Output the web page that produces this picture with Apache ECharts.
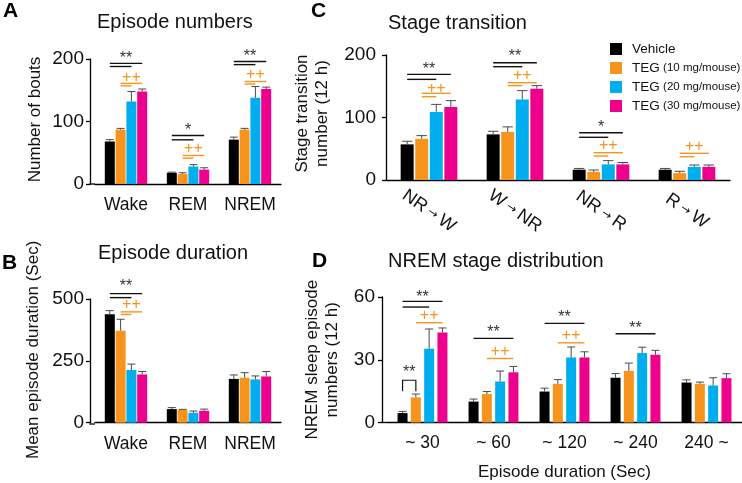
<!DOCTYPE html>
<html><head><meta charset="utf-8">
<script src="https://cdn.jsdelivr.net/npm/echarts/dist/echarts.min.js"></script>
<style>html,body{margin:0;padding:0;background:#fff}#c{width:742px;height:483px}</style>
</head><body><div id="c"></div>
<script>
// ---------- data ----------
const groups = ['Vehicle', 'TEG (10 mg/mouse)', 'TEG (20 mg/mouse)', 'TEG (30 mg/mouse)'];
const colors = ['#000000', '#F7941D', '#00AEEF', '#EC008C'];

// A: Episode numbers
const catsA = ['Wake', 'REM', 'NREM'];
const vehicleA = [68, 18, 71];
const teg10A = [87, 16, 87];
const teg20A = [132, 28, 138];
const teg30A = [148, 23, 152];
const errVehicleA = [3, 1, 4];
const errTeg10A = [2, 2, 2];
const errTeg20A = [16, 3, 18];
const errTeg30A = [4, 3, 3];

// B: Episode duration
const catsB = ['Wake', 'REM', 'NREM'];
const vehicleB = [438, 55, 177];
const teg10B = [372, 52, 182];
const teg20B = [213, 40, 175];
const teg30B = [195, 48, 187];
const errVehicleB = [15, 6, 16];
const errTeg10B = [46, 2, 20];
const errTeg20B = [24, 7, 14];
const errTeg30B = [12, 7, 20];

// C: Stage transition
const catsC = ['NR→W', 'W→NR', 'NR→R', 'R→W'];
const vehicleC = [57, 73, 16.5, 16.5];
const teg10C = [66, 77, 13, 11];
const teg20C = [109, 129, 25, 21];
const teg30C = [117, 146, 25, 21];
const errVehicleC = [5, 5, 2, 2];
const errTeg10C = [5, 8, 3, 3];
const errTeg20C = [12, 14, 6, 3];
const errTeg30C = [10, 5, 3, 3];

// D: NREM stage distribution
const catsD = ['~ 30', '~ 60', '~ 120', '~ 240', '240 ~'];
const vehicleD = [4.5, 10, 14.8, 21.4, 19.1];
const teg10D = [12, 13.6, 18.5, 24.7, 18.5];
const teg20D = [35.3, 19.6, 31.1, 33.2, 17.7];
const teg30D = [43, 24, 31.1, 32.4, 21.2];
const errVehicleD = [0.8, 1.2, 1.6, 2, 1.3];
const errTeg10D = [1.6, 1.2, 2, 3.7, 0.8];
const errTeg20D = [9.4, 5, 5, 2.8, 3.7];
const errTeg30D = [2.2, 2.8, 2.7, 2.1, 2.1];

// y-axis ticks
const ticksA = [0, 100, 200];
const ticksB = [0, 250, 500];
const ticksC = [0, 100, 200];
const ticksD = [0, 30, 60];

// significance marks: [category, fromBar, toBar, y, colour 0=black 1=orange]
const sigLinesA = [[0,0,3,193,0],[0,0,2,188,0],[0,1,3,161,1],[0,1,2,157,1],
  [1,0,3,77.6,0],[1,0,2,70.7,0],[1,1,3,45.6,1],[1,1,2,41.3,1],
  [2,0,3,196,0],[2,0,2,191,0],[2,1,3,164,1],[2,1,2,160,1]];
const sigTextPosA = [[0,0,3,205.6,0],[0,1,3,170,1],[1,0,3,91,0],[1,1,3,57.3,1],[2,0,3,208,0],[2,1,3,175,1]];
const sigTextA = ['**', '++', '*', '++', '**', '++'];

const sigLinesB = [[0,0,3,521.6,0],[0,0,2,505.6,0],[0,1,3,448,1],[0,1,2,437.6,1]];
const sigTextPosB = [[0,0,3,562.8,0],[0,1,3,478.8,1]];
const sigTextB = ['**', '++'];

const sigLinesC = [[0,0,3,169,0],[0,0,2,161,0],[0,1,3,138.7,1],[0,1,2,133.3,1],
  [1,0,3,187.7,0],[1,0,2,181.3,0],[1,1,3,155.7,1],[1,1,2,151,1],
  [2,0,3,75.7,0],[2,0,2,68.3,0],[2,1,3,43.7,1],[2,1,2,38.4,1],
  [3,1,3,42.7,1],[3,1,2,37.3,1]];
const sigTextPosC = [[0,0,3,181,0],[0,1,3,146.7,1],[1,0,3,201.6,0],[1,1,3,166.4,1],[2,0,3,88,0],[2,1,3,54.4,1],[3,1,3,53.3,1]];
const sigTextC = ['**', '++', '**', '++', '*', '++', '++'];

const sigLinesD = [[0,0,3,57.9,0],[0,0,2,55.2,0],[0,1,3,47.7,1],
  [1,0,3,40.2,0],[1,1,3,30.6,1],[2,0,3,47.4,0],[2,1,3,38.1,1],[3,0,3,42.4,0]];
const sigTextPosD = [[0,0,3,61.3,0],[0,1,3,50.9,1],[0,0,1,25.3,0],[1,0,3,44.5,0],[1,1,3,34.1,1],[2,0,3,51.7,0],[2,1,3,41.6,1],[3,0,3,46.4,0]];
const sigTextD = ['**', '++', '**', '**', '++', '**', '++', '**'];
// bracket: [category, fromBar, toBar, topY, legBottomY]
const bracketsD = [[0,0,1,20.2,15]];

// ---------- build ----------
const FONT = '"Liberation Sans", Arial, Helvetica, sans-serif';
const SIGCOL = ['#333333', '#F7941D'];

const panels = [
  { cats: catsA, vals: [vehicleA, teg10A, teg20A, teg30A], errs: [errVehicleA, errTeg10A, errTeg20A, errTeg30A], ticks: ticksA,
    lines: sigLinesA, tpos: sigTextPosA, texts: sigTextA, brackets: [],
    grid: {left: 95, top: 59, width: 186, height: 125}, yOffset: 5, barW: 10, gap: 0.08,
    yName: 'Number of bouts', yNameGap: 45, labelMargin: 6, namePad: [0, 0, 0, 4] },
  { cats: catsB, vals: [vehicleB, teg10B, teg20B, teg30B], errs: [errVehicleB, errTeg10B, errTeg20B, errTeg30B], ticks: ticksB,
    lines: sigLinesB, tpos: sigTextPosB, texts: sigTextB, brackets: [],
    grid: {left: 95, top: 299, width: 186, height: 125}, yOffset: 5, barW: 10, gap: 0.08,
    yName: 'Mean episode duration (Sec)', yNameGap: 47, labelMargin: 6, namePad: [0, 0, 0, 22] },
  { cats: catsC, vals: [vehicleC, teg10C, teg20C, teg30C], errs: [errVehicleC, errTeg10C, errTeg20C, errTeg30C], ticks: ticksC,
    lines: sigLinesC, tpos: sigTextPosC, texts: sigTextC, brackets: [],
    grid: {left: 386, top: 55, width: 344, height: 125}, yOffset: 0, barW: 13, gap: 0.12,
    yName: 'Stage transition\nnumber (12 h)', yNameGap: 54, labelMargin: 10, namePad: [0, 0, 0, 8] },
  { cats: catsD, vals: [vehicleD, teg10D, teg20D, teg30D], errs: [errVehicleD, errTeg10D, errTeg20D, errTeg30D], ticks: ticksD,
    lines: sigLinesD, tpos: sigTextPosD, texts: sigTextD, brackets: bracketsD,
    grid: {left: 387, top: 297, width: 355, height: 125.5}, yOffset: 5, barW: 10, gap: 0.33,
    yName: 'NREM sleep episode\nnumbers (12 h)', yNameGap: 40, labelMargin: 7, namePad: [0, 0, 0, 0] }
];

const grid = [], xAxis = [], yAxis = [], series = [], graphic = [];

panels.forEach((p, gi) => {
  grid.push(Object.assign({containLabel: false}, p.grid));
  const step = p.barW * (1 + p.gap);
  const xa = {
    type: 'category', gridIndex: gi, data: p.cats,
    axisLine: {lineStyle: {color: '#000', width: 1.3}},
    axisTick: {show: false},
    axisLabel: {color: '#111', fontSize: 17.5, fontFamily: FONT, margin: 12, interval: 0}
  };
  if (gi === 2) {
    xa.axisLabel = {
      color: '#111', fontFamily: FONT, interval: 0, rotate: -35, align: 'center', verticalAlign: 'middle', margin: 31,
      formatter: v => { const s = v.split('→'); return '{a|' + s[0] + '}{s| → }{a|' + s[1] + '}'; },
      rich: {a: {fontSize: 18, fontFamily: FONT, color: '#111'}, s: {fontSize: 12, fontFamily: 'DejaVu Sans, sans-serif', color: '#111'}}
    };
  }
  if (gi === 3) {
    xa.name = 'Episode duration (Sec)';
    xa.nameLocation = 'middle';
    xa.nameGap = 41;
    xa.nameTextStyle = {fontSize: 17, fontFamily: FONT, color: '#111'};
  }
  xAxis.push(xa);
  const t = p.ticks;
  yAxis.push({
    type: 'value', gridIndex: gi, min: t[0], max: t[t.length - 1], interval: t[1] - t[0], offset: p.yOffset,
    axisLine: {show: true, lineStyle: {color: '#000', width: 1.3}},
    axisTick: {show: true, length: 4, lineStyle: {color: '#000', width: 1.3}},
    splitLine: {show: false},
    axisLabel: {color: '#111', fontSize: 19, fontFamily: FONT, margin: p.labelMargin},
    name: p.yName, nameLocation: 'middle', nameGap: p.yNameGap,
    nameTextStyle: {fontSize: 17, fontFamily: FONT, color: '#111', lineHeight: 20, padding: p.namePad}
  });
  // bars
  p.vals.forEach((arr, k) => {
    series.push({
      type: 'bar', name: groups[k], xAxisIndex: gi, yAxisIndex: gi, data: arr,
      barWidth: p.barW, barGap: (p.gap * 100) + '%',
      itemStyle: {color: colors[k]}, emphasis: {disabled: true}, z: 2
    });
  });
  // error bars
  const errData = [];
  p.vals.forEach((arr, k) => arr.forEach((v, c) => errData.push([c, v, p.errs[k][c], k])));
  series.push({
    type: 'custom', xAxisIndex: gi, yAxisIndex: gi, data: errData, z: 3, clip: false,
    encode: {x: 0, y: 1}, silent: true,
    renderItem: (params, api) => {
      const c = api.value(0), v = api.value(1), e = api.value(2), k = api.value(3);
      const b = api.coord([c, v]), tp = api.coord([c, v + e]);
      const x = b[0] + (k - 1.5) * step, hw = p.barW * 0.4;
      return {type: 'group', children: [
        {type: 'line', shape: {x1: x, y1: b[1], x2: x, y2: tp[1]}, style: {stroke: '#4a4a4a', lineWidth: 1}},
        {type: 'line', shape: {x1: x - hw, y1: tp[1], x2: x + hw, y2: tp[1]}, style: {stroke: '#4a4a4a', lineWidth: 1}}
      ]};
    }
  });
  // significance lines
  series.push({
    type: 'custom', xAxisIndex: gi, yAxisIndex: gi, data: p.lines, z: 4, clip: false, silent: true,
    encode: {x: 0, y: 3},
    renderItem: (params, api) => {
      const c = api.value(0), f = api.value(1), to = api.value(2), y = api.value(3), col = api.value(4);
      const pt = api.coord([c, y]);
      return {type: 'line', shape: {x1: pt[0] + (f - 1.5) * step, y1: pt[1], x2: pt[0] + (to - 1.5) * step, y2: pt[1]},
        style: {stroke: col ? '#F7941D' : '#111', lineWidth: 1.4}};
    }
  });
  // significance texts
  series.push({
    type: 'custom', xAxisIndex: gi, yAxisIndex: gi, data: p.tpos, z: 4, clip: false, silent: true,
    encode: {x: 0, y: 3},
    renderItem: (params, api) => {
      const c = api.value(0), f = api.value(1), to = api.value(2), y = api.value(3), col = api.value(4);
      const pt = api.coord([c, y]);
      const txt = p.texts[params.dataIndex];
      const isStar = txt.indexOf('*') >= 0;
      return {type: 'text', style: {
        text: txt, x: pt[0] + ((f + to) / 2 - 1.5) * step, y: pt[1] + (isStar ? 3 : 0),
        fill: SIGCOL[col], fontSize: 16, fontFamily: FONT, align: 'center', verticalAlign: 'middle'
      }};
    }
  });
  if (p.brackets.length) {
    series.push({
      type: 'custom', xAxisIndex: gi, yAxisIndex: gi, data: p.brackets, z: 4, clip: false, silent: true,
      encode: {x: 0, y: 3},
      renderItem: (params, api) => {
        const c = api.value(0), f = api.value(1), to = api.value(2), y = api.value(3), yl = api.value(4);
        const pt = api.coord([c, y]), pl = api.coord([c, yl]);
        const x1 = pt[0] + (f - 1.5) * step, x2 = pt[0] + (to - 1.5) * step;
        return {type: 'polyline', shape: {points: [[x1, pl[1]], [x1, pt[1]], [x2, pt[1]], [x2, pl[1]]]},
          style: {stroke: '#111', lineWidth: 1.2, fill: null}};
      }
    });
  }
  // close the corner between offset y axis and x axis
  if (p.yOffset) {
    const yb = p.grid.top + p.grid.height;
    graphic.push({type: 'line', shape: {x1: p.grid.left - p.yOffset - 0.6, y1: yb, x2: p.grid.left, y2: yb},
      style: {stroke: '#000', lineWidth: 1.3}, silent: true});
  }
});

const titleStyle = {fontSize: 20, fontWeight: 'normal', fontFamily: FONT, color: '#111'};
const letterStyle = {fontSize: 21, fontWeight: 'bold', fontFamily: FONT, color: '#000'};
const option = {
  animation: false,
  backgroundColor: '#fff',
  title: [
    {text: 'A', left: 3, top: 1, padding: 0, textStyle: letterStyle},
    {text: 'Episode numbers', left: 97, top: 12, padding: 0, textStyle: titleStyle},
    {text: 'B', left: 2, top: 253, padding: 0, textStyle: letterStyle},
    {text: 'Episode duration', left: 98, top: 243, padding: 0, textStyle: titleStyle},
    {text: 'C', left: 311, top: 1, padding: 0, textStyle: letterStyle},
    {text: 'Stage transition', left: 388, top: 13, padding: 0, textStyle: titleStyle},
    {text: 'D', left: 312, top: 251, padding: 0, textStyle: letterStyle},
    {text: 'NREM stage distribution', left: 388, top: 251, padding: 0, textStyle: titleStyle}
  ],
  legend: {
    data: groups, orient: 'vertical', left: 610, top: 42, padding: 0,
    itemWidth: 12, itemHeight: 12, itemGap: 5, icon: 'rect', selectedMode: false,
    formatter: n => {
      const i = n.indexOf(' (');
      return i < 0 ? '{a|' + n + '}' : '{a|' + n.slice(0, i) + '} {b|' + n.slice(i + 1) + '}';
    },
    textStyle: {color: '#111', padding: [0, 0, 0, 5],
      rich: {a: {fontSize: 13.5, fontFamily: FONT, color: '#111'}, b: {fontSize: 11.5, fontFamily: FONT, color: '#111'}}}
  },
  grid, xAxis, yAxis, series, graphic
};

const chart = echarts.init(document.getElementById('c'), null, {renderer: 'canvas'});
chart.setOption(option);
</script>
</body></html>
